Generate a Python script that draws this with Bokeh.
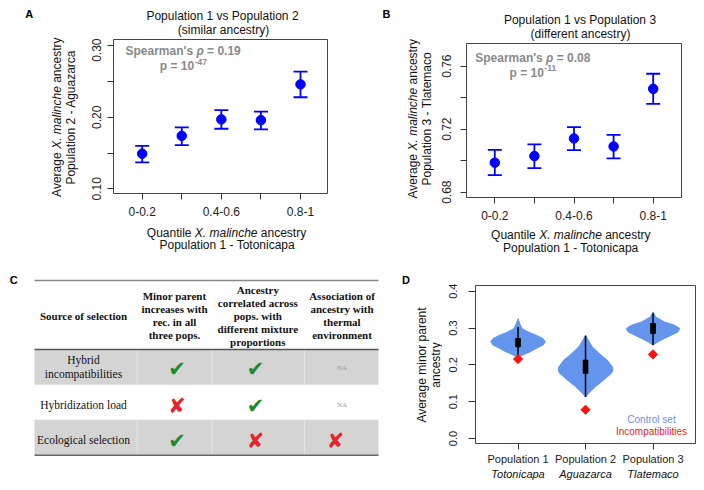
import math
from bokeh.plotting import figure
from bokeh.models import Range1d, FixedTicker, Label, Whisker, TeeHead, ColumnDataSource
from bokeh.layouts import column, row
from bokeh.embed import file_html
from bokeh.resources import INLINE
from bokeh.core.properties import value

# ---------------- data ----------------
quantile_labels = ["0-0.2", "0.2-0.4", "0.4-0.6", "0.6-0.8", "0.8-1"]
quantile_shown = [True, False, True, False, True]

pop2_mean = [0.149, 0.174, 0.197, 0.196, 0.246]
pop2_upper = [0.160, 0.186, 0.210, 0.208, 0.264]
pop2_lower = [0.137, 0.161, 0.184, 0.183, 0.228]

pop3_mean = [0.6987, 0.7029, 0.7141, 0.7090, 0.7456]
pop3_upper = [0.7069, 0.7103, 0.7213, 0.7164, 0.7552]
pop3_lower = [0.6908, 0.6952, 0.7067, 0.7014, 0.7361]

a_yticks = [0.10, 0.15, 0.20, 0.25, 0.30]
a_ylabels = ["0.10", "", "0.20", "", "0.30"]
b_yticks = [0.68, 0.70, 0.72, 0.74, 0.76]
b_ylabels = ["0.68", "", "0.72", "", "0.76"]

pops = ["Population 1", "Population 2", "Population 3"]
pop_sites = ["Totonicapa", "Aguazarca", "Tlatemaco"]
violin_levels = [
    [0.3256, 0.3121, 0.2986, 0.2895, 0.2806, 0.2716, 0.2625, 0.2536, 0.2447, 0.2355, 0.2266, 0.2204],
    [0.2806, 0.2671, 0.2490, 0.2312, 0.2131, 0.1950, 0.1861, 0.1772, 0.1592, 0.1411, 0.1233, 0.1125],
    [0.3434, 0.3299, 0.3164, 0.3075, 0.2986, 0.2895, 0.2806, 0.2716, 0.2625, 0.2536],
]
violin_halfwidth = [
    [0.0, 0.025, 0.06, 0.15, 0.27, 0.37, 0.405, 0.37, 0.27, 0.18, 0.07, 0.0],
    [0.0, 0.04, 0.10, 0.20, 0.32, 0.395, 0.405, 0.385, 0.27, 0.15, 0.05, 0.0],
    [0.0, 0.04, 0.17, 0.32, 0.395, 0.37, 0.27, 0.17, 0.075, 0.0],
]
box_q1 = [0.249, 0.177, 0.285]
box_q3 = [0.2716, 0.213, 0.312]
whisk_lo = [0.222, 0.1125, 0.254]
whisk_hi = [0.303, 0.279, 0.340]
incompat = [0.2158, 0.0782, 0.2285]
d_yticks = [0.0, 0.1, 0.2, 0.3, 0.4]
d_ylabels = ["0.0", "0.1", "0.2", "0.3", "0.4"]

table_header = [
    ["Source of selection"],
    ["Minor parent", "increases with", "rec. in all", "three pops."],
    ["Ancestry", "correlated across", "pops. with", "different mixture", "proportions"],
    ["Association of", "ancestry with", "thermal", "environment"],
]
table_rows = [["Hybrid", "incompatibilities"], ["Hybridization load"], ["Ecological selection"]]
table_cells = [["yes", "yes", "NA"], ["no", "yes", "NA"], ["yes", "no", "no"]]

# ---------------- text metrics (Arial / Liberation Sans) ----------------
UP = "ABCDEFGHIJKLMNOPQRSTUVWXYZ"
LO = "abcdefghijklmnopqrstuvwxyz"
REG = dict(zip(UP, [667,667,722,722,667,611,778,722,278,500,667,556,833,722,778,667,778,722,667,611,722,667,944,667,667,611]))
REG.update(dict(zip(LO, [556,556,500,556,556,278,556,556,222,222,500,222,833,556,556,556,556,333,500,278,556,500,722,500,500,500])))
REG.update({c: 556 for c in "0123456789"})
REG.update({" ": 278, "(": 333, ")": 333, "-": 333, ".": 278, "'": 191, "=": 584, "ρ": 578})
BOLD = dict(zip(UP, [722,722,722,722,667,611,778,722,278,556,722,611,833,722,778,667,778,722,667,611,722,667,944,667,667,611]))
BOLD.update(dict(zip(LO, [556,611,556,611,556,333,611,611,278,278,556,278,889,611,611,611,611,389,556,333,611,556,778,556,556,500])))
BOLD.update({c: 556 for c in "0123456789"})
BOLD.update({" ": 278, "(": 333, ")": 333, "-": 333, ".": 278, "'": 238, "=": 584, "ρ": 611})


def tw(s, size, bold=False):
    t = BOLD if bold else REG
    return sum(t.get(c, 556) for c in s) * size / 1000.0


FONT = "Liberation Sans"
INK = "#111111"


def layout_pieces(pieces, cx, cy, size, vertical=False):
    """Return (text, style, px, py) with left-anchored positions for a centred multi-style line.
    Leading spaces are turned into an advance (SVG text drops them)."""
    ws = [tw(t, size, "bold" in s) for t, s in pieces]
    total = sum(ws)
    out, off = [], 0.0
    for (t, s), w in zip(pieces, ws):
        lead = tw(t[:len(t) - len(t.lstrip())], size, "bold" in s)
        o = off + lead
        txt = t.strip()
        if vertical:
            out.append((txt, s, cx, cy + total / 2 - o))
        else:
            out.append((txt, s, cx - total / 2 + o, cy))
        off += w
    return out


# ---------------- text-only figures (frame = whole figure, 1 unit = 1 px) ----------------
def text_fig(x0, x1, y0, y1):
    p = figure(width=int(round(x1 - x0)), height=int(round(y1 - y0)),
               x_range=Range1d(x0, x1), y_range=Range1d(-y1, -y0),
               output_backend="svg", toolbar_location=None, title=None,
               x_axis_location=None, y_axis_location=None,
               min_border_left=0, min_border_right=0, min_border_top=0, min_border_bottom=0,
               frame_align=False)
    p.xgrid.visible = False
    p.ygrid.visible = False
    p.outline_line_color = None
    p.border_fill_color = "white"
    p.background_fill_color = "white"
    return p


def ttext(p, text, px, py, size, color=INK, style="normal", align="center", angle=0.0, font=FONT):
    p.text(x=[px], y=[-py], text=[text], angle=angle, text_font=value(font), text_font_size="%.1fpx" % size,
           text_font_style=style, text_color=color, text_align=align, text_baseline="middle")


def trich(p, pieces, cx, cy, size, color=INK, vertical=False):
    for t, s, px, py in layout_pieces(pieces, cx, cy, size, vertical):
        ttext(p, t, px, py, size, color, s, "left", math.pi / 2 if vertical else 0.0)


# ---------------- data figures ----------------
def mk_map(frame, xr, yr):
    l, r, t, b = frame

    def X(px):
        return xr[0] + (px - l) * (xr[1] - xr[0]) / (r - l)

    def Y(py):
        return yr[1] - (py - t) * (yr[1] - yr[0]) / (b - t)
    return X, Y


def lab(p, X, Y, text, px, py, size, color=INK, style="normal", align="center"):
    p.add_layout(Label(x=X(px), y=Y(py), text=text, text_font=FONT, text_font_size="%.1fpx" % size,
                       text_font_style=style, text_color=color, text_align=align, text_baseline="middle"))


def spearman(p, X, Y, rho_txt, exp_txt, left, cy, cy2):
    size = 12
    col = "#8a8a8a"
    pieces = [("Spearman's ", "bold"), ("ρ", "bold italic"), (" = " + rho_txt, "bold")]
    w1 = sum(tw(t, size, True) for t, s in pieces)
    c = left + w1 / 2
    for t, s, px, py in layout_pieces(pieces, c, cy, size):
        lab(p, X, Y, t, px, py, size, col, s, "left")
    wa = tw("p = 10", size, True)
    wb = tw(exp_txt, 8.5, True)
    start = c - (wa + wb) / 2
    lab(p, X, Y, "p = 10", start, cy2, size, col, "bold", "left")
    lab(p, X, Y, exp_txt, start + wa + 0.5, cy2 - 4.5, 8.5, col, "bold", "left")


def data_fig(box, frame, xr, yr):
    x0, x1, y0, y1 = box
    l, r, t, b = frame
    p = figure(width=int(x1 - x0), height=int(y1 - y0), x_range=Range1d(*xr), y_range=Range1d(*yr),
               output_backend="svg", toolbar_location=None, title=None,
               min_border_left=int(l - x0), min_border_right=int(x1 - r),
               min_border_top=int(t - y0), min_border_bottom=int(y1 - b), frame_align=False)
    p.xgrid.visible = False
    p.ygrid.visible = False
    p.outline_line_color = "#444444"
    p.outline_line_width = 1
    p.border_fill_color = "white"
    p.background_fill_color = "white"
    for ax in (p.xaxis[0], p.yaxis[0]):
        ax.axis_line_color = None
        ax.minor_tick_line_color = None
        ax.major_tick_in = 0
        ax.major_tick_out = 6
        ax.major_tick_line_color = "#333333"
        ax.major_label_text_font = FONT
        ax.major_label_text_color = "#222222"
        ax.axis_label_standoff = 0
    p.yaxis[0].major_label_orientation = "parallel"
    return p


def scatter_panel(box, frame, xr, yr, means, uppers, lowers, yticks, ylabels, std_x, std_y):
    p = data_fig(box, frame, xr, yr)
    xs = list(range(1, len(quantile_labels) + 1))
    p.xaxis[0].ticker = FixedTicker(ticks=xs)
    p.xaxis[0].major_label_overrides = {x: (lbl if show else "") for x, lbl, show in zip(xs, quantile_labels, quantile_shown)}
    p.yaxis[0].ticker = FixedTicker(ticks=yticks)
    p.yaxis[0].major_label_overrides = dict(zip(yticks, ylabels))
    p.xaxis[0].major_label_text_font_size = "12px"
    p.yaxis[0].major_label_text_font_size = "12px"
    p.xaxis[0].major_label_standoff = std_x
    p.yaxis[0].major_label_standoff = std_y
    src = ColumnDataSource(dict(x=xs, m=means, u=uppers, lo=lowers))
    p.add_layout(Whisker(source=src, base="x", upper="u", lower="lo", line_color="blue", line_width=1.8,
                         upper_head=TeeHead(size=14, line_color="blue", line_width=1.8),
                         lower_head=TeeHead(size=14, line_color="blue", line_width=1.8)))
    p.scatter("x", "m", source=src, size=9.5, color="blue")
    return p


XLAB = [("Quantile ", "normal"), ("X. malinche", "italic"), (" ancestry", "normal")]
YLAB = [("Average ", "normal"), ("X. malinche", "italic"), (" ancestry", "normal")]

# ---------------- panel A ----------------
A_frame = (113, 327, 39, 193)
A_xr = (0.275, 5.682)
A_yr = (0.0934, 0.3088)
pA = scatter_panel((82, 360, 38, 223), A_frame, A_xr, A_yr, pop2_mean, pop2_upper, pop2_lower,
                   a_yticks, a_ylabels, 7, 6)
XA, YA = mk_map(A_frame, A_xr, A_yr)
spearman(pA, XA, YA, "0.19", "-47", 125, 50.7, 65.7)

A_left = text_fig(0, 82, 0, 256)
ttext(A_left, "A", 28.7, 13.8, 11, "#000000", "bold")
trich(A_left, YLAB, 56, 116.7, 12, vertical=True)
trich(A_left, [("Population 2 - Aguazarca", "normal")], 70, 116.7, 12, vertical=True)
A_top = text_fig(82, 360, 0, 38)
ttext(A_top, "Population 1 vs Population 2", 222, 15.3, 12)
ttext(A_top, "(similar ancestry)", 223, 29.5, 12)
A_bot = text_fig(82, 360, 223, 256)
trich(A_bot, XLAB, 226, 232, 12)
ttext(A_bot, "Population 1 - Totonicapa", 226.7, 244.5, 12)
blockA = row(A_left, column(A_top, pA, A_bot))

# ---------------- panel B ----------------
B_frame = (466, 681, 43, 197)
B_xr = (0.285, 5.715)
B_yr = (0.6766, 0.7744)
pB = scatter_panel((434, 704, 41, 226), B_frame, B_xr, B_yr, pop3_mean, pop3_upper, pop3_lower,
                   b_yticks, b_ylabels, 7, 9)
XB, YB = mk_map(B_frame, B_xr, B_yr)
spearman(pB, XB, YB, "0.08", "-11", 474.7, 57.3, 72)

B_left = text_fig(360, 434, 0, 256)
ttext(B_left, "B", 386, 13.7, 11, "#000000", "bold")
trich(B_left, YLAB, 412, 118.3, 12, vertical=True)
trich(B_left, [("Population 3 - Tlatemaco", "normal")], 426, 118.3, 12, vertical=True)
B_top = text_fig(434, 704, 0, 41)
ttext(B_top, "Population 1 vs Population 3", 579.5, 19, 12)
ttext(B_top, "(different ancestry)", 580, 33, 12)
B_bot = text_fig(434, 704, 226, 256)
trich(B_bot, XLAB, 570.3, 234.3, 12)
ttext(B_bot, "Population 1 - Totonicapa", 570.3, 247.5, 12)
blockB = row(B_left, column(B_top, pB, B_bot))

# ---------------- panel C (table) ----------------
pC = text_fig(0, 380, 256, 490)
col_edges = [34, 136.7, 211.7, 304, 378]
row_edges = [349, 384.3, 419.3, 454.7]
col_text_x = [83, 174, 257.3, 341.5]
sym_x = [176.5, 255, 335]
row_sym_y = [368.5, 405.5, 440]

grey_rows = [0, 2]
pC.quad(left=[col_edges[0]] * 2, right=[col_edges[-1]] * 2,
        top=[-row_edges[i] for i in grey_rows], bottom=[-row_edges[i + 1] for i in grey_rows],
        fill_color="#d4d4d4", line_color=None)
sx, sy0, sy1 = [], [], []
for i in grey_rows:
    for c in col_edges[1:-1]:
        sx.append(c); sy0.append(-row_edges[i]); sy1.append(-row_edges[i + 1])
pC.segment(x0=sx, y0=sy0, x1=sx, y1=sy1, line_color="#e6e6e6", line_width=1)
hl = [280, 349, 454.7]
pC.segment(x0=[col_edges[0]] * 3, x1=[col_edges[-1]] * 3, y0=[-v for v in hl], y1=[-v for v in hl],
           line_color=["#888888", "#555555", "#666666"], line_width=1.5)

hx, hy, ht = [], [], []
for ci, lines in enumerate(table_header):
    n = len(lines)
    for k, s in enumerate(lines):
        hx.append(col_text_x[ci]); hy.append(-(315.0 + (k - (n - 1) / 2) * 13.0)); ht.append(s)
pC.text(x=hx, y=hy, text=ht, text_font=value("Liberation Serif"), text_font_style="bold",
        text_font_size="11px", text_align="center", text_baseline="middle", text_color=INK)

rx, ry, rt = [], [], []
row_text_y = [[359.3, 373.3], [404], [439]]
for ri, lines in enumerate(table_rows):
    for k, s in enumerate(lines):
        rx.append(col_text_x[0]); ry.append(-row_text_y[ri][k]); rt.append(s)
pC.text(x=rx, y=ry, text=rt, text_font=value("Liberation Serif"), text_font_size="11.5px",
        text_align="center", text_baseline="middle", text_color=INK)

mx, my, mt, mc, nx, ny = [], [], [], [], [], []
for ri, cells in enumerate(table_cells):
    for ci, v in enumerate(cells):
        if v == "NA":
            nx.append(col_text_x[ci + 1]); ny.append(-(row_sym_y[ri] - 1))
        else:
            mx.append(sym_x[ci]); my.append(-row_sym_y[ri])
            mt.append("✔" if v == "yes" else "✘")
            mc.append("#1f8a2a" if v == "yes" else "#e5232b")
pC.text(x=mx, y=my, text=mt, text_color=mc, text_font=value("DejaVu Sans"), text_font_size="21px",
        text_align="center", text_baseline="middle")
pC.text(x=nx, y=ny, text=["NA"] * len(nx), text_color="#9a9a9a", text_font=value("Liberation Serif"),
        text_font_size="7px", text_align="center", text_baseline="middle")
ttext(pC, "C", 13.3, 279, 11, "#000000", "bold")

# ---------------- panel D ----------------
D_frame = (475, 695, 285, 444)
D_xr = (0.37, 3.629)
D_yr = (-0.0135, 0.4154)
pD = data_fig((442, 704, 256, 467), D_frame, D_xr, D_yr)
XD, YD = mk_map(D_frame, D_xr, D_yr)
centers = [1, 2, 3]
pD.xaxis[0].ticker = FixedTicker(ticks=centers)
pD.xaxis[0].major_label_overrides = dict(zip(centers, pops))
pD.yaxis[0].ticker = FixedTicker(ticks=d_yticks)
pD.yaxis[0].major_label_overrides = dict(zip(d_yticks, d_ylabels))
pD.xaxis[0].major_label_text_font_size = "11px"
pD.yaxis[0].major_label_text_font_size = "11px"
pD.xaxis[0].major_label_standoff = 3
pD.yaxis[0].major_label_standoff = 11
pD.yaxis[0].major_tick_out = 7

vx, vy = [], []
for c, lv, hw in zip(centers, violin_levels, violin_halfwidth):
    vx.append([c + w for w in hw] + [c - w for w in reversed(hw)])
    vy.append(list(lv) + list(reversed(lv)))
pD.patches(vx, vy, fill_color="#6495ED", line_color="#6495ED", line_width=1)
pD.segment(x0=centers, x1=centers, y0=whisk_lo, y1=whisk_hi, line_color="black", line_width=1.5)
pD.quad(left=[c - 0.034 for c in centers], right=[c + 0.034 for c in centers], bottom=box_q1, top=box_q3,
        fill_color="black", line_color="black")
pD.scatter(centers, incompat, marker="square", angle=math.pi / 4, size=6.5, color="#ff1010")
lab(pD, XD, YD, "Control set", 651, 420, 10, "#6f90e8")
lab(pD, XD, YD, "Incompatibilities", 651, 432.3, 10, "#ee2020")

D_left = text_fig(380, 442, 256, 490)
ttext(D_left, "D", 405.5, 279.2, 11, "#000000", "bold")
ttext(D_left, "Average minor parent", 421.7, 364.5, 12, angle=math.pi / 2)
ttext(D_left, "ancestry", 435.7, 364.5, 12, angle=math.pi / 2)
D_bot = text_fig(442, 704, 467, 490)
for c, site in zip(centers, pop_sites):
    ttext(D_bot, site, 475 + (c - D_xr[0]) * (695 - 475) / (D_xr[1] - D_xr[0]), 473.3, 11, style="italic")
blockD = row(D_left, column(pD, D_bot))

layout = column(row(blockA, blockB), row(pC, blockD))
open("out.html", "w").write(file_html(layout, INLINE))
